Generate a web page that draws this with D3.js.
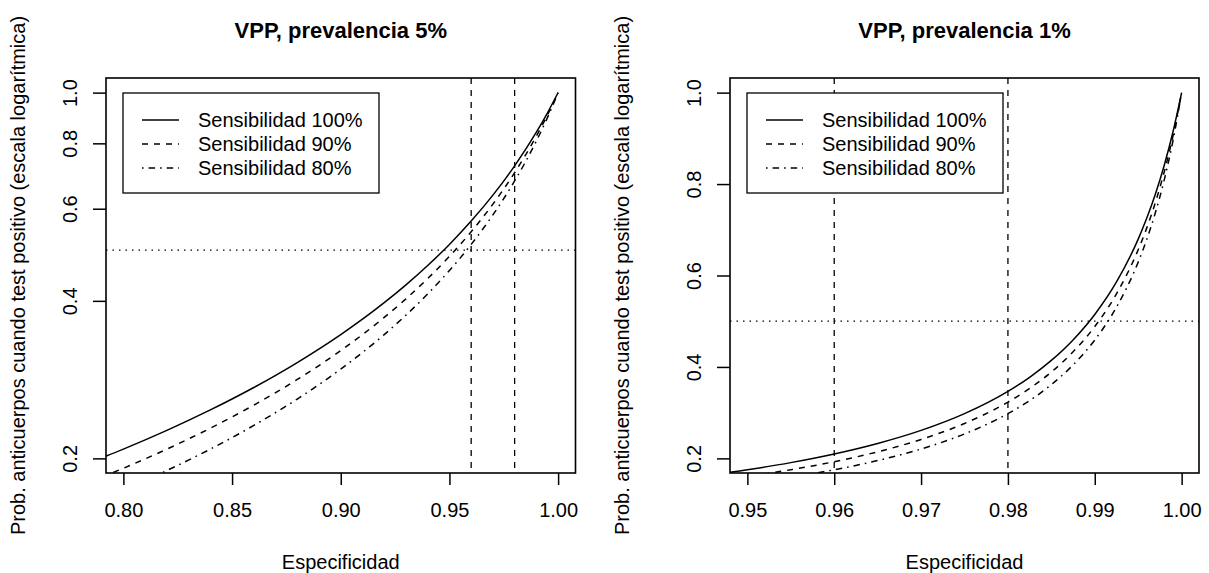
<!DOCTYPE html>
<html>
<head>
<meta charset="utf-8">
<script src="https://cdn.jsdelivr.net/npm/d3@7"></script>
<style>
  html, body { margin: 0; padding: 0; background: #fff; }
  svg { display: block; font-family: "Liberation Sans", Arial, Helvetica, sans-serif; }
</style>
</head>
<body>
<svg id="chart" width="1209" height="573"></svg>
<script>
// ---------------- data ----------------
const seriesNames = ["Sensibilidad 100%", "Sensibilidad 90%", "Sensibilidad 80%"];
const dashStyles = ["none", "6,6", "1.6,5,6.5,5"];

// Panel 1: prevalence 5%
const title5 = "VPP, prevalencia 5%";
const spec5 = [0.78, 0.80, 0.82, 0.84, 0.86, 0.88, 0.90, 0.92, 0.93, 0.94, 0.95, 0.96, 0.97, 0.98, 0.99, 0.995, 1.00];
const ppv5_s100 = [0.1931, 0.2083, 0.2262, 0.2475, 0.2732, 0.3049, 0.3448, 0.3968, 0.4292, 0.4673, 0.5128, 0.5682, 0.6369, 0.7246, 0.8403, 0.9132, 1.0];
const ppv5_s90  = [0.1772, 0.1915, 0.2083, 0.2284, 0.2528, 0.2830, 0.3214, 0.3719, 0.4036, 0.4412, 0.4865, 0.5422, 0.6122, 0.7031, 0.8257, 0.9045, 1.0];
const ppv5_s80  = [0.1606, 0.1739, 0.1896, 0.2083, 0.2312, 0.2597, 0.2963, 0.3448, 0.3756, 0.4124, 0.4571, 0.5128, 0.5839, 0.6780, 0.8081, 0.8939, 1.0];
const xTicks5 = [0.80, 0.85, 0.90, 0.95, 1.00];
const yTicks5 = [0.2, 0.4, 0.6, 0.8, 1.0];
const vlines5 = [0.96, 0.98];
const hline5 = 0.5;

// Panel 2: prevalence 1%
const title1 = "VPP, prevalencia 1%";
const spec1 = [0.945, 0.95, 0.955, 0.96, 0.965, 0.97, 0.975, 0.98, 0.9825, 0.985, 0.9875, 0.99, 0.9925, 0.995, 0.996, 0.997, 0.998, 0.999, 1.00];
const ppv1_s100 = [0.1617, 0.1751, 0.1907, 0.2096, 0.2326, 0.2612, 0.2979, 0.3466, 0.3774, 0.4142, 0.4590, 0.5147, 0.5858, 0.6796, 0.7261, 0.7795, 0.8413, 0.9138, 1.0];
const ppv1_s90  = [0.1478, 0.1603, 0.1751, 0.1927, 0.2143, 0.2414, 0.2763, 0.3231, 0.3530, 0.3889, 0.4330, 0.4884, 0.5600, 0.6563, 0.7047, 0.7609, 0.8268, 0.9052, 1.0];
const ppv1_s80  = [0.1337, 0.1450, 0.1587, 0.1751, 0.1952, 0.2205, 0.2534, 0.2979, 0.3265, 0.3613, 0.4043, 0.4590, 0.5308, 0.6293, 0.6796, 0.7388, 0.8092, 0.8946, 1.0];
const xTicks1 = [0.95, 0.96, 0.97, 0.98, 0.99, 1.00];
const yTicks1 = [0.2, 0.4, 0.6, 0.8, 1.0];
const vlines1 = [0.96, 0.98];
const hline1 = 0.5;

const xLabel = "Especificidad";
const yLabel = "Prob. anticuerpos cuando test positivo (escala logarítmica)";

// ---------------- drawing ----------------
const svg = d3.select("#chart");
const FS = 20;
const plotTop = 78, plotBottom = 473;

function panel(cfg) {
  const g = svg.append("g");
  const x = d3.scaleLinear().domain(cfg.xdom).range([cfg.left, cfg.right]);
  const y = cfg.log
    ? d3.scaleLog().domain(cfg.ydom).range([plotBottom, plotTop])
    : d3.scaleLinear().domain(cfg.ydom).range([plotBottom, plotTop]);

  const clipId = "clip" + cfg.id;
  svg.append("defs").append("clipPath").attr("id", clipId)
    .append("rect").attr("x", cfg.left).attr("y", plotTop)
    .attr("width", cfg.right - cfg.left).attr("height", plotBottom - plotTop);

  const plot = g.append("g").attr("clip-path", `url(#${clipId})`);

  // reference lines
  plot.append("line")
    .attr("x1", cfg.left).attr("x2", cfg.right)
    .attr("y1", y(cfg.hline)).attr("y2", y(cfg.hline))
    .attr("stroke", "#000").attr("stroke-width", 1.3).attr("stroke-dasharray", "1.5,5");
  plot.selectAll("line.v").data(cfg.vlines).enter().append("line")
    .attr("class", "v")
    .attr("x1", d => x(d)).attr("x2", d => x(d))
    .attr("y1", plotTop).attr("y2", plotBottom)
    .attr("stroke", "#000").attr("stroke-width", 1.3).attr("stroke-dasharray", "6,6");

  // curves
  const line = d3.line().x(d => x(d[0])).y(d => y(d[1])).curve(d3.curveMonotoneX);
  cfg.series.forEach((vals, i) => {
    const pts = cfg.xs.map((s, k) => [s, vals[k]]);
    plot.append("path").datum(pts)
      .attr("d", line)
      .attr("fill", "none").attr("stroke", "#000").attr("stroke-width", 1.5)
      .attr("stroke-dasharray", dashStyles[i]);
  });

  // box
  g.append("rect").attr("x", cfg.left).attr("y", plotTop)
    .attr("width", cfg.right - cfg.left).attr("height", plotBottom - plotTop)
    .attr("fill", "none").attr("stroke", "#000").attr("stroke-width", 1.6);

  // x axis
  const xa = g.append("g").attr("transform", `translate(0,${plotBottom})`)
    .call(d3.axisBottom(x).tickValues(cfg.xTicks).tickFormat(d3.format(".2f"))
      .tickSize(12).tickPadding(18));
  xa.select(".domain").remove();
  xa.attr("font-family", null).attr("font-size", null);
  xa.selectAll("line").attr("stroke-width", 1.5);
  xa.selectAll("text").attr("font-size", FS).attr("fill", "#000");

  // y axis
  const ya = g.append("g").attr("transform", `translate(${cfg.left},0)`)
    .call(d3.axisLeft(y).tickValues(cfg.yTicks).tickFormat(d3.format(".1f")).tickSize(13));
  ya.select(".domain").remove();
  ya.attr("font-family", null).attr("font-size", null);
  ya.selectAll("line").attr("stroke-width", 1.5);
  ya.selectAll("text")
    .attr("x", null).attr("dy", null)
    .attr("text-anchor", "middle")
    .attr("transform", "translate(-29,0) rotate(-90)")
    .attr("font-size", FS).attr("fill", "#000");

  // titles
  const cx = (cfg.left + cfg.right) / 2;
  g.append("text").attr("x", cx).attr("y", 38).attr("text-anchor", "middle")
    .attr("font-size", 22).attr("font-weight", "bold").text(cfg.title);
  g.append("text").attr("x", cx).attr("y", 569).attr("text-anchor", "middle")
    .attr("font-size", FS).text(xLabel);
  g.append("text").attr("text-anchor", "middle")
    .attr("transform", `translate(${cfg.ylabX},${(plotTop + plotBottom) / 2}) rotate(-90)`)
    .attr("font-size", FS).text(yLabel);

  // legend
  const L = cfg.legend;
  g.append("rect").attr("x", L.x).attr("y", 93).attr("width", 256).attr("height", 100)
    .attr("fill", "#fff").attr("stroke", "#000").attr("stroke-width", 1.3);
  seriesNames.forEach((name, i) => {
    const yy = 120 + i * 24;
    g.append("line").attr("x1", L.x + 19).attr("x2", L.x + 56)
      .attr("y1", yy).attr("y2", yy)
      .attr("stroke", "#000").attr("stroke-width", 1.5).attr("stroke-dasharray", dashStyles[i]);
    g.append("text").attr("x", L.x + 75).attr("y", yy + 7)
      .attr("font-size", FS).text(name);
  });
}

panel({
  id: 5, title: title5, left: 106, right: 575.5, log: true,
  xdom: [0.792, 1.008], ydom: [0.2 * Math.pow(5, -0.04), Math.pow(5, 0.04)],
  xs: spec5, series: [ppv5_s100, ppv5_s90, ppv5_s80],
  xTicks: xTicks5, yTicks: yTicks5, vlines: vlines5, hline: hline5,
  ylabX: 25, legend: { x: 123 }
});
panel({
  id: 1, title: title1, left: 730, right: 1199, log: false,
  xdom: [0.948, 1.002], ydom: [0.168, 1.032],
  xs: spec1, series: [ppv1_s100, ppv1_s90, ppv1_s80],
  xTicks: xTicks1, yTicks: yTicks1, vlines: vlines1, hline: hline1,
  ylabX: 629, legend: { x: 747 }
});
</script>
</body>
</html>
